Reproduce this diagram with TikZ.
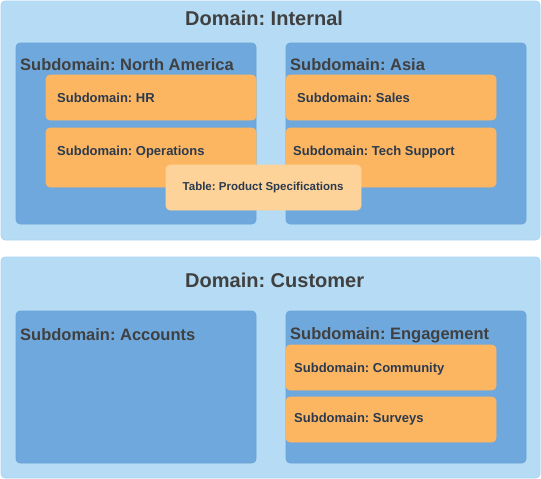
\documentclass[tikz,border=0pt]{standalone}
\usepackage{fontspec}
\setmainfont{Liberation Sans}
\frenchspacing
\definecolor{domfill}{HTML}{B5DCF4}
\definecolor{domdraw}{HTML}{A9D4F0}
\definecolor{subfill}{HTML}{6FA8DC}
\definecolor{subdraw}{HTML}{6AA3D8}
\definecolor{leaffill}{HTML}{FCB661}
\definecolor{tabfill}{HTML}{FDD399}
\definecolor{labgray}{HTML}{404040}
\definecolor{leaftext}{HTML}{2B3A4E}
\tikzset{
  boxbase/.style={rectangle, rounded corners=4pt, inner sep=0pt, outer sep=0pt, anchor=north west, line width=0.6pt},
  dombox/.style={boxbase, fill=domfill, draw=domdraw},
  subbox/.style={boxbase, fill=subfill, draw=subdraw},
  leafbox/.style={boxbase, fill=leaffill, draw=leaffill},
  tabbox/.style={boxbase, fill=tabfill, draw=tabfill},
  domlabel/.style={anchor=base west, inner sep=0pt, text=labgray, font=\fontsize{20}{22}\selectfont\bfseries},
  sublabel/.style={anchor=base west, inner sep=0pt, text=labgray, font=\fontsize{16.5}{19}\selectfont\bfseries},
  leaflabel/.style={anchor=base west, inner sep=0pt, text=leaftext, font=\fontsize{13}{15}\selectfont\bfseries},
  tablabel/.style={anchor=base west, inner sep=0pt, text=leaftext, font=\fontsize{11.5}{13}\selectfont\bfseries},
}
\begin{document}
\begin{tikzpicture}[x=1pt, y=-1pt]
\useasboundingbox (0,0) rectangle (541,479);
% Domain: Internal
\node[dombox, minimum width=539pt, minimum height=239pt] (internal) at (1,1) {};
\node[domlabel] (internalL) at (185,25) {Domain: Internal};
\node[subbox, minimum width=240pt, minimum height=181pt] (na) at (16,43) {};
\node[sublabel] (naL) at (20,70) {Subdomain: North America};
\node[leafbox, minimum width=210pt, minimum height=45pt] (hr) at (46,75) {};
\node[leaflabel] (hrL) at (57,102) {Subdomain: HR};
\node[leafbox, minimum width=210pt, minimum height=59pt] (ops) at (46,128) {};
\node[leaflabel] (opsL) at (57,155) {Subdomain: Operations};
\node[subbox, minimum width=240pt, minimum height=181pt] (asia) at (286,43) {};
\node[sublabel] (asiaL) at (290,70) {Subdomain: Asia};
\node[leafbox, minimum width=210pt, minimum height=45pt] (sales) at (286,75) {};
\node[leaflabel] (salesL) at (297,102) {Subdomain: Sales};
\node[leafbox, minimum width=210pt, minimum height=59pt] (tech) at (286,128) {};
\node[leaflabel] (techL) at (293,155) {Subdomain: Tech Support};
\node[tabbox, minimum width=195pt, minimum height=45pt] (tab) at (166,165) {};
\node[tablabel] (tabL) at (182.5,190) {Table: Product Specifications};
% Domain: Customer
\node[dombox, minimum width=539pt, minimum height=221pt] (customer) at (1,257) {};
\node[domlabel] (customerL) at (185,287) {Domain: Customer};
\node[subbox, minimum width=240pt, minimum height=152pt] (acc) at (16,311) {};
\node[sublabel] (accL) at (20,340) {Subdomain: Accounts};
\node[subbox, minimum width=240pt, minimum height=152pt] (eng) at (286,311) {};
\node[sublabel] (engL) at (290,339) {Subdomain: Engagement};
\node[leafbox, minimum width=210pt, minimum height=45pt] (comm) at (286,345) {};
\node[leaflabel] (commL) at (294,372) {Subdomain: Community};
\node[leafbox, minimum width=210pt, minimum height=45pt] (surv) at (286,397) {};
\node[leaflabel] (survL) at (294,422) {Subdomain: Surveys};
\end{tikzpicture}
\end{document}
